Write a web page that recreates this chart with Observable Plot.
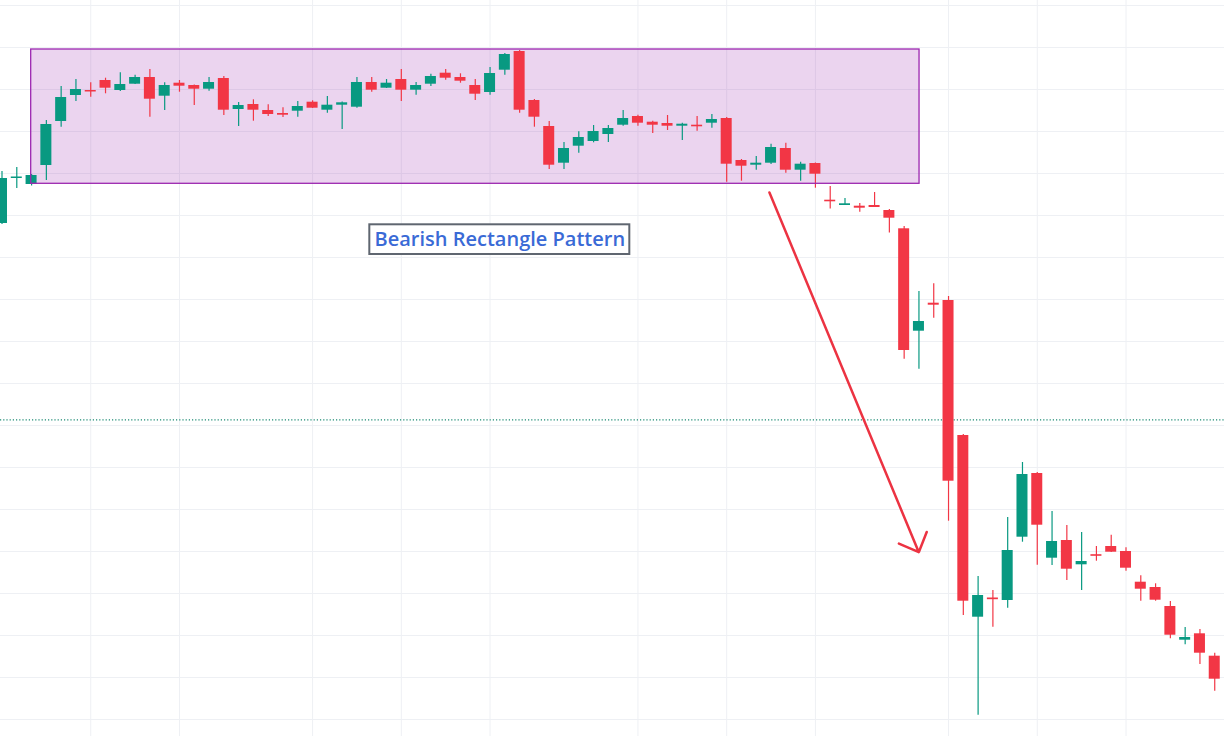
<!DOCTYPE html>
<html>
<head>
<meta charset="utf-8">
<script src="https://cdn.jsdelivr.net/npm/d3@7"></script>
<script src="https://cdn.jsdelivr.net/npm/@observablehq/plot@0.6"></script>
<style>
  html, body { margin: 0; padding: 0; background: #ffffff; }
  #chart { width: 1224px; height: 736px; overflow: hidden; }
</style>
</head>
<body>
<div id="chart"></div>
<script>
// ---- Candle data (index = bar number) ----
const opens = [99.7,104.2,103.6,105.5,109.9,112.5,113.0,114.0,113.0,113.63,
  114.3,112.43,113.73,113.5,113.13,114.2,111.1,111.6,111.0,110.7,
  110.93,111.83,111.03,111.53,111.33,113.8,113.23,114.1,113.03,113.63,
  114.73,114.3,113.5,112.8,115.03,116.9,112.0,109.4,105.73,107.43,
  107.9,108.6,109.53,110.4,109.83,109.7,109.43,109.53,109.73,110.2,
  106.0,105.53,105.73,107.2,105.03,105.7,102.03,101.5,101.43,101.5,
  101.0,99.17,88.93,91.73,92.0,78.5,60.33,62.25,62.0,68.33,
  74.7,66.23,68.0,65.57,66.58,67.4,66.9,63.83,63.3,61.4,
  58.03,58.67,56.43];
const highs = [104.9,105.3,104.6,110.0,113.4,114.1,113.77,114.23,114.77,114.53,
  115.1,113.77,114.0,113.55,114.3,114.4,111.8,112.07,111.57,111.27,
  111.9,111.97,112.4,111.85,114.3,114.3,114.1,115.1,113.8,114.63,
  115.1,114.67,114.1,115.3,116.7,117.0,112.1,109.9,107.8,108.87,
  109.5,109.5,111.0,110.53,109.93,110.5,109.73,110.4,110.6,110.3,
  106.1,106.4,107.63,107.73,105.83,105.75,103.4,102.2,101.7,102.8,
  101.1,99.4,92.9,93.67,92.4,78.6,64.4,63.0,70.3,75.8,
  74.8,70.9,69.5,68.8,67.4,68.53,67.27,64.47,63.67,61.9,
  59.3,59.1,56.73];
const lows = [99.6,103.2,103.45,104.0,109.33,111.9,112.33,112.67,112.9,113.6,
  110.33,111.0,112.83,111.5,112.93,110.5,109.4,109.93,110.4,110.3,
  110.33,111.2,110.73,109.1,111.23,112.83,113.2,111.9,112.53,113.4,
  114.03,113.73,112.0,112.53,114.53,110.73,109.33,105.1,105.1,106.73,
  107.77,107.8,109.43,109.43,108.7,109.0,108.0,108.93,109.23,103.83,
  103.93,105.03,105.6,104.73,103.93,103.23,101.15,101.5,100.83,101.3,
  98.75,86.13,85.13,90.23,69.93,60.5,50.53,59.33,61.23,67.83,
  65.53,65.5,64.0,63.0,65.93,66.8,64.93,61.93,61.93,58.17,
  57.57,55.6,52.93];
const closes = [104.2,104.35,104.5,109.6,112.3,113.1,112.85,113.23,113.6,114.3,
  112.13,113.5,113.43,113.13,113.8,111.03,111.5,111.03,110.6,110.53,
  111.4,111.23,111.53,111.77,113.8,113.03,113.73,113.03,113.5,114.4,
  114.23,113.93,112.63,114.7,116.6,111.03,110.33,105.53,107.2,108.3,
  108.9,109.2,110.2,109.73,109.53,109.43,109.63,109.37,110.1,105.63,
  105.43,105.73,107.3,105.03,105.63,104.63,101.87,101.67,101.23,101.3,
  100.23,87.0,89.9,91.53,73.93,61.93,62.5,62.08,67.0,74.6,
  69.53,67.9,65.13,65.9,66.42,66.83,65.23,63.13,62.03,58.53,
  58.3,56.73,54.13];

// ---- Grid / reference values ----
const gridBars = [6, 12, 21, 27, 33, 43, 49, 55, 64, 70, 76];
const gridPrices = [121.5, 117.3, 113.1, 108.9, 104.7, 100.5, 96.3, 92.1, 87.9,
  83.7, 79.5, 75.3, 71.1, 66.9, 62.7, 58.5, 54.3, 50.1];
const priceLine = [80.07];

// ---- Annotations ----
const rangeBox = [{x1: 1.974, x2: 62.04, y1: 103.67, y2: 117.1}];
const breakArrow = [{x1: 51.89, y1: 102.8, x2: 61.99, y2: 66.83}];
const labelBox = [{x1: 24.87, x2: 42.45, y1: 96.6, y2: 99.57}];
const labelText = [{x: 33.66, y: 98.1, text: "Bearish Rectangle Pattern"}];

const UP = "#089981", DOWN = "#f23645";
const candles = opens.map((o, i) => ({
  i, open: o, high: highs[i], low: lows[i], close: closes[i],
  up: closes[i] >= o
}));

const chart = Plot.plot({
  width: 1224,
  height: 736,
  margin: 0,
  style: {background: "#ffffff", overflow: "hidden"},
  x: {type: "linear", domain: [-0.1014, 82.66], axis: null},
  y: {type: "linear", domain: [48.4, 122], axis: null},
  marks: [
    Plot.ruleX(gridBars, {x: d => d, stroke: "#eef0f4", strokeWidth: 1}),
    Plot.ruleY(gridPrices, {y: d => d, stroke: "#eef0f4", strokeWidth: 1}),
    Plot.ruleY(priceLine, {y: d => d, stroke: "#1b8a73", strokeWidth: 1.2, strokeDasharray: "1.2,2"}),
    Plot.rect(rangeBox, {x1: "x1", x2: "x2", y1: "y1", y2: "y2",
      fill: "#9c27b0", fillOpacity: 0.2}),
    Plot.ruleX(candles, {x: "i", y1: "low", y2: "high", stroke: d => d.up ? UP : DOWN, strokeWidth: 1.2}),
    Plot.rect(candles, {
      x1: d => d.i - 0.372, x2: d => d.i + 0.372,
      y1: "open", y2: "close",
      fill: d => d.up ? UP : DOWN
    }),
    Plot.rect(rangeBox, {x1: "x1", x2: "x2", y1: "y1", y2: "y2",
      fill: "none", stroke: "#9c27b0", strokeWidth: 1.3}),
    Plot.arrow(breakArrow, {x1: "x1", y1: "y1", x2: "x2", y2: "y2",
      stroke: "#ec3342", strokeWidth: 2.5, headAngle: 88, headLength: 13}),
    Plot.rect(labelBox, {x1: "x1", x2: "x2", y1: "y1", y2: "y2",
      fill: "#ffffff", stroke: "#5f6670", strokeWidth: 2}),
    Plot.text(labelText, {x: "x", y: "y", text: "text",
      fill: "#3a6ad6", fontSize: 20, fontWeight: 600,
      fontFamily: "'Open Sans', sans-serif", textAnchor: "middle", lineAnchor: "middle"})
  ]
});
document.getElementById("chart").appendChild(chart);
</script>
</body>
</html>
